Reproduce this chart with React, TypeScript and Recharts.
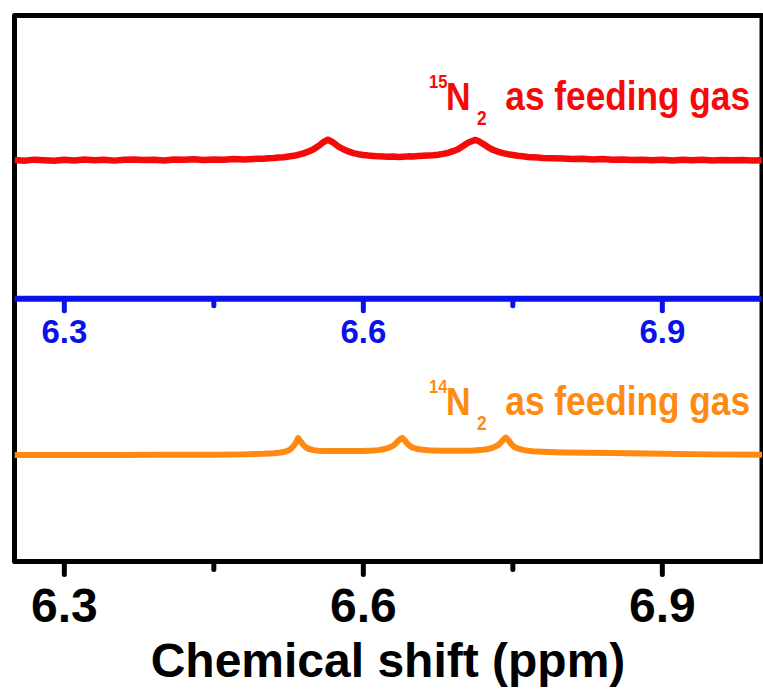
import { ComposedChart, Line, XAxis, YAxis, ReferenceLine, ReferenceArea } from "recharts"

const FONT = '"Liberation Sans", Arial, sans-serif'
const RED = "#f50a0a"
const ORANGE = "#ff8a12"
const BLUE = "#0a12ea"

const axisTicks = [6.3, 6.45, 6.6, 6.75, 6.9]
const labelledTicks = [6.3, 6.6, 6.9]

// 15N2 feeding gas: chemical shift (ppm) / intensity (a.u.)
const ppm15 = [
  6.25, 6.26, 6.27, 6.28, 6.29, 6.3, 6.31, 6.32, 6.33, 6.34, 6.35, 6.36, 6.37, 6.38, 6.39, 6.4,
  6.41, 6.42, 6.43, 6.44, 6.45, 6.46, 6.47, 6.48, 6.49, 6.5,
  6.505, 6.51, 6.515, 6.52, 6.525, 6.53, 6.535, 6.54, 6.545, 6.55, 6.555, 6.56, 6.5645,
  6.57, 6.575, 6.58, 6.585, 6.59, 6.595, 6.6, 6.605, 6.61, 6.615, 6.62, 6.625, 6.63, 6.635,
  6.64, 6.645, 6.65, 6.655, 6.66, 6.665, 6.67, 6.675, 6.68, 6.685, 6.69, 6.695, 6.7, 6.705,
  6.712,
  6.715, 6.72, 6.725, 6.73, 6.735, 6.74, 6.745, 6.75, 6.755, 6.76, 6.765, 6.77, 6.775, 6.78,
  6.79, 6.8, 6.81, 6.82, 6.83, 6.84, 6.85, 6.86, 6.87, 6.88, 6.89, 6.9, 6.91, 6.92, 6.93, 6.94,
  6.95, 6.96, 6.97, 6.98, 6.99, 7.0,
]
const int15 = [
  0.005, -0.01, 0.01, 0.0, -0.012, 0.008, -0.005, 0.012, 0.0, 0.01, -0.008, 0.006, 0.014, 0.002, 0.01, -0.004,
  0.012, 0.006, 0.016, 0.004, 0.014, 0.008, 0.02, 0.014, 0.024, 0.028,
  0.035, 0.04, 0.05, 0.055, 0.068, 0.08, 0.1, 0.125, 0.16, 0.2, 0.26, 0.33, 0.375,
  0.32, 0.25, 0.2, 0.16, 0.13, 0.11, 0.095, 0.085, 0.078, 0.07, 0.068, 0.062, 0.066, 0.06,
  0.064, 0.07, 0.068, 0.075, 0.08, 0.085, 0.09, 0.1, 0.115, 0.135, 0.165, 0.2, 0.26, 0.32,
  0.37,
  0.355, 0.3, 0.24, 0.19, 0.155, 0.13, 0.11, 0.095, 0.08, 0.072, 0.06, 0.055, 0.05, 0.042,
  0.035, 0.03, 0.022, 0.026, 0.014, 0.02, 0.008, 0.014, 0.004, 0.01, 0.0, 0.008, -0.004, 0.006, 0.0, 0.01,
  -0.006, 0.004, -0.002, 0.004, -0.004, 0.0,
]

// 14N2 feeding gas
const ppm14 = [
  6.25, 6.3, 6.35, 6.4, 6.45, 6.48, 6.5, 6.51, 6.515, 6.52, 6.525, 6.5275, 6.53, 6.5325, 6.5345,
  6.537, 6.54, 6.5425, 6.545, 6.55, 6.555, 6.56, 6.57, 6.58, 6.59, 6.6, 6.61, 6.615, 6.62, 6.625,
  6.63, 6.6325, 6.635, 6.6375, 6.639, 6.6415, 6.644, 6.6465, 6.649, 6.654, 6.66, 6.665, 6.67,
  6.68, 6.69, 6.7, 6.71, 6.72, 6.725, 6.73, 6.735, 6.7375, 6.74, 6.743, 6.746, 6.7485, 6.751,
  6.754, 6.76, 6.765, 6.77, 6.78, 6.8, 6.85, 6.9, 6.95, 7.0,
]
const int14 = [
  0.0, 0.001, 0.002, 0.003, 0.006, 0.012, 0.022, 0.032, 0.04, 0.055, 0.085, 0.115, 0.165, 0.23, 0.31,
  0.25, 0.18, 0.14, 0.115, 0.09, 0.08, 0.075, 0.072, 0.072, 0.073, 0.075, 0.082, 0.09, 0.105, 0.13,
  0.17, 0.21, 0.26, 0.3, 0.315, 0.27, 0.21, 0.17, 0.14, 0.11, 0.095, 0.086, 0.082,
  0.078, 0.078, 0.08, 0.085, 0.098, 0.11, 0.135, 0.18, 0.22, 0.27, 0.32, 0.26, 0.2, 0.155,
  0.125, 0.095, 0.08, 0.07, 0.06, 0.048, 0.035, 0.022, 0.012, 0.005,
]

// vertical stacking of the two spectra and the inner axis
const offset15 = 7.35
const offset14 = 1.95
const midAxisY = 4.81

const rows15 = ppm15.map((ppm, i) => ({ ppm, v: offset15 + int15[i] }))
const rows14 = ppm14.map((ppm, i) => ({ ppm, v: offset14 + int14[i] }))

const W = 763
const H = 689
const PX_PER_UNIT = 54.6

function BottomTick({ x, y, payload }: any) {
  const major = labelledTicks.includes(payload.value)
  return (
    <g>
      <line x1={x} x2={x} y1={y} y2={y + (major ? 13 : 8)} stroke="#000" strokeWidth={5} strokeLinecap="round" />
      {major && (
        <text x={x} y={y + 60.5} textAnchor="middle" fontFamily={FONT} fontWeight="bold" fontSize={48} fill="#000">
          {payload.value.toFixed(1)}
        </text>
      )}
    </g>
  )
}

// narrow bold text, squeezed horizontally
function Narrow({ x, y, size, anchor = "start", children }: any) {
  return (
    <text transform={`translate(${x},${y}) scale(0.87,1)`} fontSize={size} textAnchor={anchor}>
      {children}
    </text>
  )
}

function GasLabel({ y, iso, color }: { y: number; iso: string; color: string }) {
  return (
    <g fill={color} fontFamily={FONT} fontWeight="bold">
      <Narrow x={429} y={y - 22} size={19}>{iso}</Narrow>
      <Narrow x={446} y={y} size={39}>N</Narrow>
      <Narrow x={477} y={y + 15} size={20}>2</Narrow>
      <Narrow x={750} y={y} size={40.5} anchor="end">as feeding gas</Narrow>
    </g>
  )
}

export default function App() {
  return (
    <div style={{ position: "absolute", left: 0, top: 0, width: W, height: H, background: "#fff" }}>
      <ComposedChart width={W} height={H} margin={{ top: 15.5, right: 1, bottom: 0, left: 14.5 }}>
        <XAxis
          dataKey="ppm"
          type="number"
          domain={[6.25, 7.0]}
          allowDataOverflow
          ticks={axisTicks}
          tick={<BottomTick />}
          tickSize={0}
          tickMargin={0}
          tickLine={false}
          axisLine={false}
          height={127.5}
        />
        <YAxis type="number" domain={[0, 10]} allowDataOverflow hide />

        <ReferenceArea x1={6.25} x2={7.0} y1={0} y2={10} fill="none" stroke="#000" strokeWidth={5} strokeLinejoin="round" />

        <ReferenceLine y={midAxisY} stroke={BLUE} strokeWidth={6} />
        {axisTicks.map((t) => {
          const major = labelledTicks.includes(t)
          const len = (major ? 12 : 7) / PX_PER_UNIT
          return (
            <ReferenceLine
              key={t}
              segment={[{ x: t, y: midAxisY }, { x: t, y: midAxisY - len }]}
              stroke={BLUE}
              strokeWidth={5}
              strokeLinecap="round"
              ifOverflow="visible"
              label={
                major
                  ? { value: t.toFixed(1), position: "bottom", offset: 9, fill: BLUE, fontSize: 33, fontWeight: "bold", fontFamily: FONT }
                  : undefined
              }
            />
          )
        })}

        <Line data={rows15} dataKey="v" type="linear" stroke={RED} strokeWidth={6.5} strokeLinejoin="round" dot={false} isAnimationActive={false} />
        <Line data={rows14} dataKey="v" type="linear" stroke={ORANGE} strokeWidth={6} strokeLinejoin="round" dot={false} isAnimationActive={false} />
      </ComposedChart>

      <svg width={W} height={H} style={{ position: "absolute", left: 0, top: 0, pointerEvents: "none" }}>
        <GasLabel y={110} iso="15" color={RED} />
        <GasLabel y={415} iso="14" color={ORANGE} />
        <text x={388} y={677} textAnchor="middle" fontFamily={FONT} fontWeight="bold" fontSize={48} fill="#000">
          Chemical shift (ppm)
        </text>
      </svg>
    </div>
  )
}
